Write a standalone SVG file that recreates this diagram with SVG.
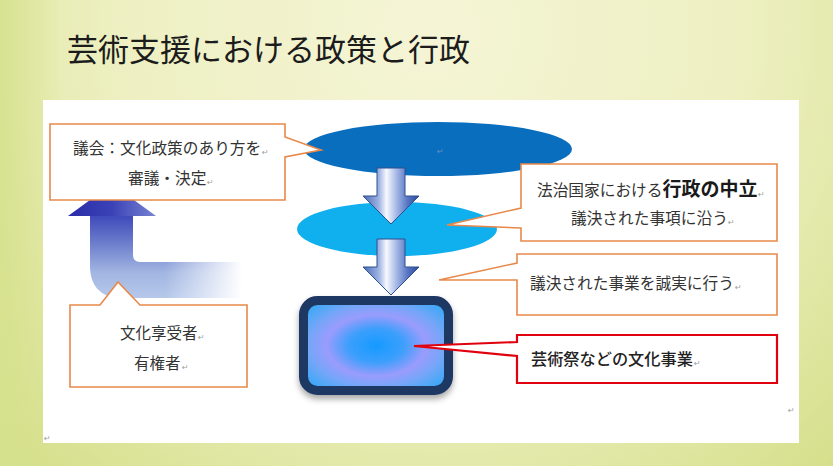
<svg xmlns="http://www.w3.org/2000/svg" width="833" height="466" viewBox="0 0 833 466">
  <defs>
    <style>
      .jp { font-family: "Noto Sans CJK JP", "Noto Sans", sans-serif; fill: #333333; }
      .lbl { font-size: 15.7px; }
      .callout { fill: #ffffff; stroke: #e8894a; stroke-width: 1.6; stroke-linejoin: miter; }
      .callout-red { fill: #ffffff; stroke: #e0000e; stroke-width: 2.2; stroke-linejoin: miter; }
      .pm { font-family: "DejaVu Sans", sans-serif; font-size: 8px; fill: #a0a0a0; }
      .down { fill: url(#downGrad); stroke: #2f4f8f; stroke-width: 1; }
    </style>
    <radialGradient id="bgGrad" gradientUnits="userSpaceOnUse" cx="430" cy="30" r="620">
      <stop offset="0" stop-color="#f5f5d6"/>
      <stop offset="0.5" stop-color="#eef0c2"/>
      <stop offset="1" stop-color="#d3de86"/>
    </radialGradient>
    <linearGradient id="leftEdge" x1="0" y1="0" x2="1" y2="0">
      <stop offset="0" stop-color="#d6e28e" stop-opacity="0.9"/>
      <stop offset="1" stop-color="#d6e28e" stop-opacity="0"/>
    </linearGradient>
    <linearGradient id="downGrad" gradientUnits="userSpaceOnUse" x1="363" y1="0" x2="419" y2="0">
      <stop offset="0" stop-color="#4a6ab6"/>
      <stop offset="0.28" stop-color="#9cb2e2"/>
      <stop offset="0.42" stop-color="#f6f8ff"/>
      <stop offset="0.6" stop-color="#a4b8e6"/>
      <stop offset="0.8" stop-color="#5674c2"/>
      <stop offset="1" stop-color="#2c4a98"/>
    </linearGradient>
    <linearGradient id="headGrad" gradientUnits="userSpaceOnUse" x1="68" y1="0" x2="156" y2="0">
      <stop offset="0" stop-color="#2a2ca8"/>
      <stop offset="0.5" stop-color="#3a42b6"/>
      <stop offset="1" stop-color="#7784d2"/>
    </linearGradient>
    <linearGradient id="bodyGrad" gradientUnits="userSpaceOnUse" x1="0" y1="214" x2="0" y2="298">
      <stop offset="0" stop-color="#3c46ba"/>
      <stop offset="0.35" stop-color="#6c7ecc"/>
      <stop offset="0.7" stop-color="#a2b6e2"/>
      <stop offset="1" stop-color="#b6c8ea"/>
    </linearGradient>
    <linearGradient id="fadeGrad" gradientUnits="userSpaceOnUse" x1="165" y1="0" x2="242" y2="0">
      <stop offset="0" stop-color="#ffffff"/>
      <stop offset="1" stop-color="#000000"/>
    </linearGradient>
    <mask id="fadeMask" maskUnits="userSpaceOnUse" x="0" y="0" width="833" height="466">
      <rect x="0" y="0" width="833" height="466" fill="url(#fadeGrad)"/>
    </mask>
    <radialGradient id="boxGrad" cx="0.5" cy="0.5" r="0.62">
      <stop offset="0" stop-color="#169aff"/>
      <stop offset="0.3" stop-color="#3c9ffc"/>
      <stop offset="0.55" stop-color="#9a9cfc"/>
      <stop offset="0.75" stop-color="#74a6f8"/>
      <stop offset="1" stop-color="#3aa8f6"/>
    </radialGradient>
    <filter id="shadow" x="-20%" y="-20%" width="140%" height="150%">
      <feDropShadow dx="0" dy="4" stdDeviation="3" flood-color="#000000" flood-opacity="0.35"/>
    </filter>
  </defs>

  <!-- background -->
  <rect x="0" y="0" width="833" height="466" fill="url(#bgGrad)"/>
  <rect x="0" y="0" width="60" height="466" fill="url(#leftEdge)"/>
  <text class="jp" x="67" y="61" font-size="31" fill="#1c1c1c" style="fill:#1c1c1c">芸術支援における政策と行政</text>

  <!-- white panel -->
  <rect x="43" y="100" width="756" height="343" fill="#ffffff"/>

  <!-- ellipses -->
  <g id="node-gikai-ellipse">
    <ellipse cx="438" cy="149" rx="134" ry="27" fill="#0a6ebe"/>
    <text class="pm" x="437" y="154" style="fill:#6d8fbf">↵</text>
  </g>
  <g id="node-gyosei-ellipse">
    <ellipse cx="397" cy="229" rx="100" ry="27" fill="#10b0ee"/>
  </g>

  <!-- connectors -->
  <g id="connectors">
    <path class="down" d="M377,168 H405 V196 H419 L391,224 L363,196 H377 Z"/>
    <path class="down" d="M377,239 H405 V267 H419 L391,295 L363,267 H377 Z"/>
    <g id="bent-arrow" mask="url(#fadeMask)">
      <path d="M90,215 H133 V255 Q133,262 140,262 H242 V298 H122 C100,298 90,285 90,266 Z" fill="url(#bodyGrad)"/>
    </g>
    <path d="M112,184 L156,216 H68 Z" fill="url(#headGrad)"/>
  </g>

  <!-- business box -->
  <g id="node-jigyo">
    <rect x="303.5" y="300.5" width="145" height="90" rx="14" ry="14" fill="url(#boxGrad)" stroke="#1f3763" stroke-width="9" filter="url(#shadow)"/>
  </g>

  <!-- callouts -->
  <g id="node-gikai">
    <path class="callout" d="M50,124 H285 V137 L321,150 L285,157 V200 H50 Z"/>
    <text class="jp lbl" x="73" y="154">議会：文化政策のあり方を</text>
    <text class="pm" x="262" y="155">↵</text>
    <text class="jp lbl" x="128" y="184">審議・決定</text>
    <text class="pm" x="207" y="185">↵</text>
  </g>

  <g id="node-hochi">
    <path class="callout" d="M521,164 H777 V241 H521 V228 L447,225 L521,208 Z"/>
    <text class="jp lbl" x="537" y="196">法治国家における<tspan font-size="19" font-weight="700" style="fill:#1a1a1a">行政の中立</tspan></text>
    <text class="pm" x="758" y="197">↵</text>
    <text class="jp lbl" x="571" y="224">議決された事項に沿う</text>
    <text class="pm" x="728" y="225">↵</text>
  </g>

  <g id="node-seijitsu">
    <path class="callout" d="M517,254 H777 V315 H517 V280 L439,280 L517,263 Z"/>
    <text class="jp lbl" x="530" y="289">議決された事業を誠実に行う</text>
    <text class="pm" x="735" y="290">↵</text>
  </g>

  <g id="node-geijutsusai">
    <path class="callout-red" d="M517,335 H777 V383 H517 V356 L414,346 L517,342 Z"/>
    <text class="jp" x="531" y="365" font-size="16.2" font-weight="500" style="fill:#222222">芸術祭などの文化事業</text>
    <text class="pm" x="694" y="366">↵</text>
  </g>

  <g id="node-kyojusha">
    <path class="callout" d="M70,305 H100 L118,282 L140,305 H247 V387 H70 Z"/>
    <text class="jp" x="120" y="339" font-size="15.5">文化享受者</text>
    <text class="pm" x="198" y="340">↵</text>
    <text class="jp" x="134" y="369" font-size="15.5">有権者</text>
    <text class="pm" x="182" y="370">↵</text>
  </g>

  <text class="pm" x="788" y="413">↵</text>
  <text class="pm" x="44" y="441" font-size="5">↵</text>
</svg>
